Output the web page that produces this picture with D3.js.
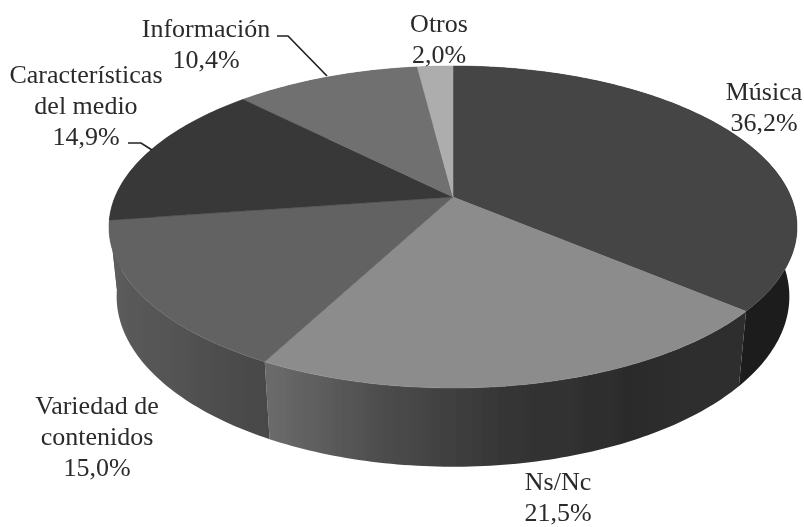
<!DOCTYPE html>
<html>
<head>
<meta charset="utf-8">
<script src="https://cdn.jsdelivr.net/npm/d3@7"></script>
<style>
  html, body { margin: 0; padding: 0; background: #fff; }
  text { font-family: "Liberation Serif", serif; font-size: 26px; fill: #2b2b2b; text-anchor: middle; }
</style>
</head>
<body>
<div id="chart"></div>
<script>
// Values, clockwise from twelve o'clock
const categories = ["Música", "Ns/Nc", "Variedad de contenidos", "Características del medio", "Información", "Otros"];
const shares = [36.2, 21.5, 15.0, 14.9, 10.4, 2.0];
const labelLines = [["Música", "36,2%"], ["Ns/Nc", "21,5%"], ["Variedad de", "contenidos", "15,0%"],
  ["Características", "del medio", "14,9%"], ["Información", "10,4%"], ["Otros", "2,0%"]];

const topColors = ["#444444", "#8c8c8c", "#626262", "#393939", "#6f6f6f", "#adadad"];
// side wall shading, left to right
const wallColors = [["#1a1a1a", "#1a1a1a"], ["#6c6c6c", "#4c4c4c", "#353535", "#2c2c2c", "#2e2e2e"], ["#5c5c5c", "#474747"],
  ["#5c5c5c", "#5c5c5c"], ["#555555", "#555555"], ["#777777", "#777777"]];

// label anchors: x centre and first baseline
const labelPos = [[764, 100], [558, 490], [97, 414], [86, 83], [206, 37], [439, 32]];
const lineHeight = 31;
const leaders = [[[277, 36], [288, 36], [327, 76]], [[128, 143], [141, 143], [152, 150]]];

const width = 804;
const height = 527;

// perspective camera for the tilted disc
const cam = { x: 453, y: 197, a: 338, b: 155.4, k: 0.1863, m: 0.022, c: 70 };
const project = (angle, z) => {
  const X = Math.sin(angle);
  const Y = Math.cos(angle);
  const w = 1 + cam.k * Y + cam.m * z;
  return [cam.x + (cam.a * X) / w, cam.y + (cam.c * z - cam.b * Y) / w];
};

const svg = d3.select("#chart").append("svg").attr("width", width).attr("height", height);
const defs = svg.append("defs");
defs.append("filter").attr("id", "soft").append("feGaussianBlur").attr("stdDeviation", 0.6);
defs.append("filter").attr("id", "softText").append("feGaussianBlur").attr("stdDeviation", 0.35);

const arcs = d3.pie().sort(null)(shares);
const rim = (d, z) => {
  const steps = Math.max(2, Math.ceil((d.endAngle - d.startAngle) * 60));
  return d3.range(steps + 1).map((i) => project(d.startAngle + ((d.endAngle - d.startAngle) * i) / steps, z));
};
const line = d3.line();

const disc = svg.append("g").attr("filter", "url(#soft)");

// walls first, the top surface covers whatever sits behind it
arcs.forEach((d, i) => {
  const top = rim(d, 0);
  const bottom = rim(d, 1);
  const [x0, x1] = d3.extent(top.concat(bottom), (p) => p[0]);
  const grad = defs.append("linearGradient").attr("id", `wall${i}`)
    .attr("gradientUnits", "userSpaceOnUse")
    .attr("x1", x0).attr("x2", x1).attr("y1", 0).attr("y2", 0);
  wallColors[i].forEach((c, j) => {
    grad.append("stop").attr("offset", j / (wallColors[i].length - 1)).attr("stop-color", c);
  });
  disc.append("path")
    .attr("d", line(top.concat(bottom.reverse())) + "Z")
    .attr("fill", `url(#wall${i})`);
});

disc.selectAll("path.top")
  .data(arcs)
  .enter()
  .append("path")
  .attr("class", "top")
  .attr("d", (d) => line([[cam.x, cam.y]].concat(rim(d, 0))) + "Z")
  .attr("fill", (d, i) => topColors[i])
  .attr("stroke", (d, i) => topColors[i])
  .attr("stroke-width", 0.5);

const notes = svg.append("g").attr("filter", "url(#softText)");

notes.selectAll("path.leader")
  .data(leaders)
  .enter()
  .append("path")
  .attr("class", "leader")
  .attr("d", (d) => line(d))
  .attr("fill", "none")
  .attr("stroke", "#222")
  .attr("stroke-width", 1.7);

categories.forEach((name, i) => {
  const t = notes.append("text").attr("aria-label", name);
  labelLines[i].forEach((s, j) => {
    t.append("tspan").attr("x", labelPos[i][0]).attr("y", labelPos[i][1] + j * lineHeight).text(s);
  });
});
</script>
</body>
</html>
